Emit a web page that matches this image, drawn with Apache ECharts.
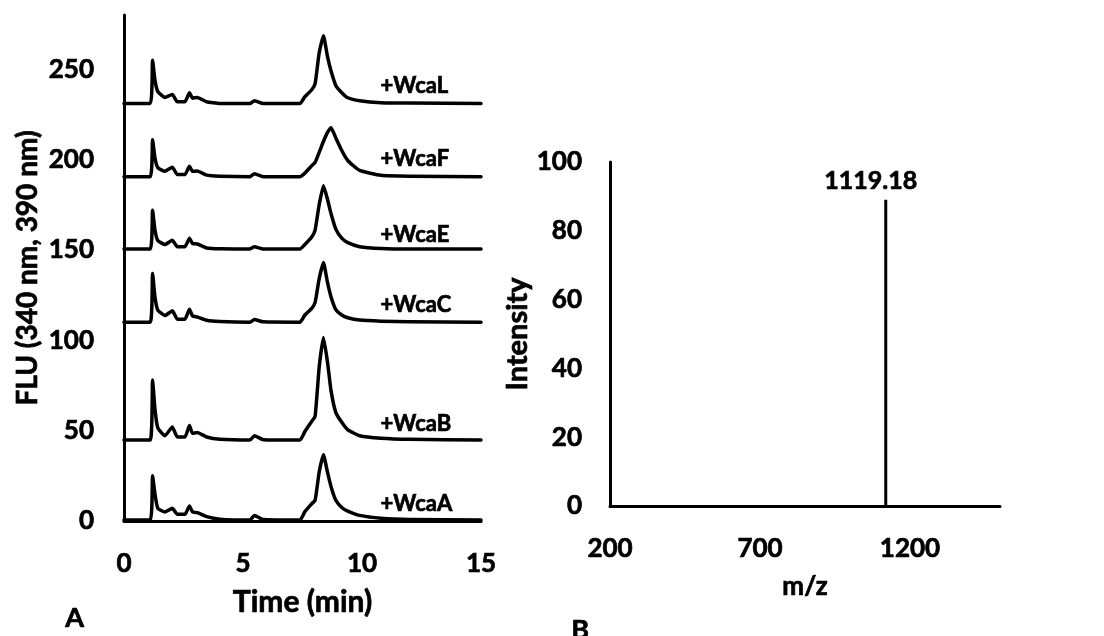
<!DOCTYPE html>
<html>
<head>
<meta charset="utf-8">
<script src="https://cdn.jsdelivr.net/npm/echarts@6/dist/echarts.min.js"></script>
<style>
html, body { margin: 0; padding: 0; background: #fff; }
#chart { width: 1104px; height: 636px; }
</style>
</head>
<body>
<div id="chart"></div>
<script>
// panel A: retention time (min), shared by every trace
const times = [0, 1.1, 1.2, 1.3, 1.42, 1.72, 2.03, 2.24, 2.56, 2.75, 2.88, 3.08, 3.47, 4.03, 5.29, 5.48, 5.85,
    7.39, 7.6, 7.88, 8.03, 8.2, 8.38, 8.55, 8.7, 8.9, 9.15, 9.4, 9.9, 10.8, 12, 15];

// FLU traces (stacked, as plotted)
const wcaA = [0.5, 0.5, 25, 15, 7, 5, 7, 3.7, 3.7, 8.3, 5, 4.6, 2.4, 1, 0.5, 3.1, 0.8,
    0.5, 5.2, 9.4, 11.5, 27, 36.7, 27, 19, 11.5, 7.5, 5.5, 3.1, 1.5, 0.8, 0.5];
const wcaB = [44.8, 44.8, 78, 62, 51.5, 47.2, 52, 46.5, 46.5, 52.8, 48.5, 49, 46.5, 45.2, 44.8, 47.2, 45,
    44.8, 49.5, 55, 58, 85, 101.5, 88, 72, 60, 54.6, 50.5, 47.2, 45.8, 45.2, 44.8];
const wcaC = [110, 110, 137, 124, 116.7, 113.7, 116.3, 111.7, 111.7, 117.2, 113.5, 112.9, 111.1, 110.4, 110, 111.5, 110.2,
    110, 114, 117.5, 121, 134, 143, 132, 124, 117, 114, 112.5, 111.2, 110.6, 110.3, 110];
const wcaE = [150.5, 150.5, 172, 161, 155.2, 153, 155.4, 151.8, 151.8, 156.5, 153.5, 153.3, 151.1, 150.6, 150.5, 151.8, 150.5,
    150.5, 153, 157, 161, 175, 185.5, 178, 170, 161.5, 156.5, 154, 151.8, 150.8, 150.5, 150.5];
const wcaF = [190.5, 190.5, 211, 201, 195.5, 193.5, 195.8, 191.7, 191.7, 196.3, 193.5, 193.7, 191.4, 190.8, 190.5, 192.2, 190.5,
    190.5, 192.5, 196.5, 198.5, 204, 210, 215, 217.6, 212, 205, 199.5, 194, 191.3, 190.8, 190.5];
const wcaL = [231, 231, 255, 244, 237.6, 234.4, 236, 232, 232, 237, 234, 234.4, 232, 231, 231, 232.6, 231,
    231, 234.8, 238.5, 242, 259, 268.5, 257, 249, 241, 237, 234.2, 232.6, 231.5, 231.3, 231];

const traceNames = ['+WcaA', '+WcaB', '+WcaC', '+WcaE', '+WcaF', '+WcaL'];
const traces = [wcaA, wcaB, wcaC, wcaE, wcaF, wcaL];
// where each trace label sits (time, FLU)
const labelTime = 10.76;
const labelFlu = [9.2, 53.7, 119.5, 158.5, 200.2, 240.7];

// panel B: mass spectrum
const mzPeaks = [1119.18];
const intensities = [89];

const font = 'Lato';
const black = '#000';

// a little stroke makes Lato bold look closer to the heavy original
function boldText(size) {
    return {
        color: black, fontFamily: font, fontWeight: 'bold', fontSize: size,
        textBorderColor: black, textBorderWidth: 0.7
    };
}

let myChart = echarts.init(document.getElementById('chart'));

let seriesA = traces.map(function (vals, i) {
    return {
        name: traceNames[i],
        type: 'line',
        xAxisIndex: 0,
        yAxisIndex: 0,
        data: times.map(function (t, j) { return [t, vals[j]]; }),
        showSymbol: false,
        smooth: 0.15,
        silent: true,
        lineStyle: { color: black, width: 3.5, join: 'round', cap: 'round' },
        markPoint: {
            symbol: 'circle',
            symbolSize: 1,
            itemStyle: { color: 'rgba(0,0,0,0)' },
            label: Object.assign({
                show: true,
                position: 'right',
                distance: 0,
                formatter: traceNames[i]
            }, boldText(22)),
            data: [{ coord: [labelTime, labelFlu[i]] }]
        }
    };
});

// stick spectrum: one vertical segment per peak
let stickData = [];
mzPeaks.forEach(function (mz, i) {
    stickData.push({ value: [mz, 0], label: { show: false } });
    stickData.push({
        value: [mz, intensities[i]],
        label: Object.assign({
            show: true,
            position: 'top',
            distance: 6,
            offset: [-15, 0],
            formatter: mz.toFixed(2)
        }, boldText(25))
    });
    stickData.push(null);
});

myChart.setOption({
    animation: false,
    backgroundColor: '#fff',
    grid: [
        { left: 124, top: 15, width: 357, height: 506 },   // A
        { left: 610, top: 162, width: 390, height: 344 }   // B
    ],
    xAxis: [
        {
            type: 'value', gridIndex: 0, min: 0, max: 15, interval: 5,
            name: 'Time (min)', nameLocation: 'middle', nameGap: 66,
            nameTextStyle: boldText(30),
            axisLine: { lineStyle: { color: black, width: 3 } },
            axisTick: { show: false },
            splitLine: { show: false },
            axisLabel: Object.assign({ margin: 30 }, boldText(26))
        },
        {
            type: 'value', gridIndex: 1, min: 200, max: 1500, interval: 500,
            name: 'm/z', nameLocation: 'middle', nameGap: 68,
            nameTextStyle: boldText(26),
            axisLine: { lineStyle: { color: black, width: 3 } },
            axisTick: { show: false },
            splitLine: { show: false },
            axisLabel: Object.assign({
                margin: 30,
                formatter: function (v) { return (v - 200) % 500 === 0 ? v : ''; }
            }, boldText(26))
        }
    ],
    yAxis: [
        {
            type: 'value', gridIndex: 0, min: 0, max: 280, interval: 50,
            name: 'FLU (340 nm, 390 nm)', nameLocation: 'middle', nameGap: 82,
            nameTextStyle: boldText(28),
            axisLine: { show: true, lineStyle: { color: black, width: 3 } },
            axisTick: { show: false },
            splitLine: { show: false },
            axisLabel: Object.assign({
                margin: 30,
                formatter: function (v) { return v % 50 === 0 ? v : ''; }
            }, boldText(26))
        },
        {
            type: 'value', gridIndex: 1, min: 0, max: 100, interval: 20,
            name: 'Intensity', nameLocation: 'middle', nameGap: 66,
            nameTextStyle: boldText(29),
            axisLine: { show: true, lineStyle: { color: black, width: 3 } },
            axisTick: { show: false },
            splitLine: { show: false },
            axisLabel: Object.assign({ margin: 28 }, boldText(26))
        }
    ],
    graphic: [
        { type: 'text', left: 65, top: 604, style: { text: 'A', fill: black, stroke: black, lineWidth: 0.7, font: 'bold 27px ' + font } },
        { type: 'text', left: 571, top: 616, style: { text: 'B', fill: black, stroke: black, lineWidth: 0.7, font: 'bold 27px ' + font } }
    ],
    series: seriesA.concat([
        {
            name: 'spectrum',
            type: 'line',
            xAxisIndex: 1,
            yAxisIndex: 1,
            data: stickData,
            connectNulls: false,
            showSymbol: true,
            symbol: 'circle',
            symbolSize: 1,
            itemStyle: { color: 'rgba(0,0,0,0)' },
            silent: true,
            lineStyle: { color: black, width: 3 }
        }
    ])
});
</script>
</body>
</html>
